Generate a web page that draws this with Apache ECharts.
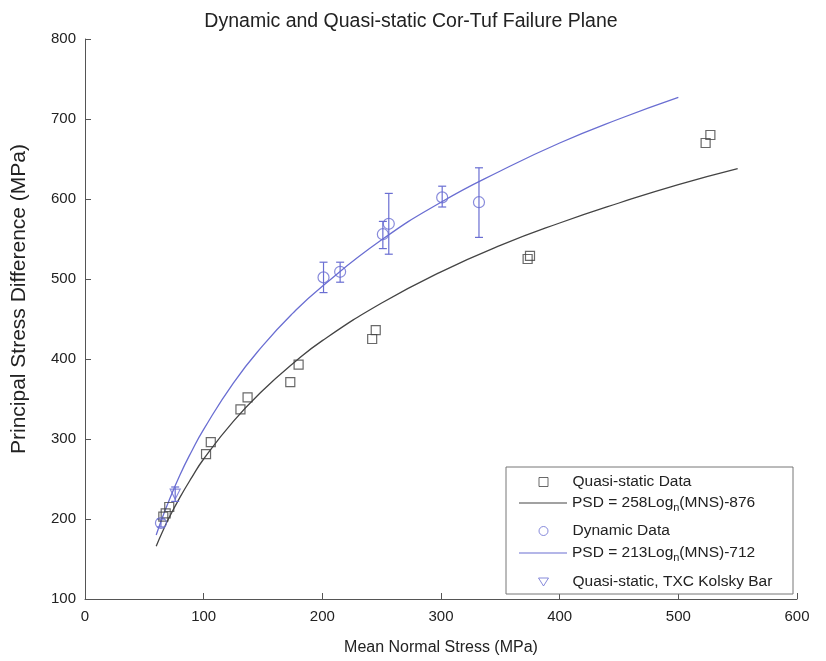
<!DOCTYPE html>
<html>
<head>
<meta charset="utf-8">
<script src="https://cdn.jsdelivr.net/npm/echarts@6/dist/echarts.min.js"></script>
<style>html,body{margin:0;padding:0;background:#fff;}#c{width:826px;height:661px;}</style>
</head>
<body>
<div id="c"></div>
<script>
const xTicks = [0, 100, 200, 300, 400, 500, 600];
const yTicks = [100, 200, 300, 400, 500, 600, 700, 800];

// Quasi-static data [MNS, PSD]
const quasiStatic = [[66,203],[68,207],[71,215],[102,281],[106,296],[131,337],[137,352],[173,371],[180,393],[242,425],[245,436],[373,525],[375,529],[523,670],[527,680]];
// Fit curve (black)
const fitBlack = [[60,166],[65,183],[70,199],[80,227],[90,252],[100,275],[125,322],[150,361],[175,394],[200,423],[250,470],[300,509],[350,542],[400,570],[450,595],[500,618],[550,638]];
// Dynamic data [MNS, PSD]
const dynamicData = [[64,195],[201,502],[215,509],[251,556],[256,569],[301,602],[332,596]];
// Dynamic error bars [MNS, low, high]
const dynamicErr = [[64,190,200],[201,483,521],[215,496,521],[251,538,572],[256,531,607],[301,590,616],[332,552,639]];
// Fit curve (blue)
const fitBlue = [[60,180],[65,201],[70,220],[80,255],[90,285],[100,312],[125,370],[150,417],[175,457],[200,491],[250,549],[300,596],[350,635],[400,670],[450,700],[500,727]];
// Quasi-static TXC Kolsky bar
const kolsky = [[76,231]];
const kolskyErr = [[76,222,240]];

const names = ['Quasi-static Data','PSD = 258Logn(MNS)-876','Dynamic Data','PSD = 213Logn(MNS)-712','Quasi-static, TXC Kolsky Bar'];

const BLACK = '#444444';
const BLUE = '#6a6ed2';
const FONT = 'Liberation Sans, Arial, sans-serif';

function errSeries(data, color, z) {
  return {
    type: 'custom',
    data: data,
    z: z,
    silent: true,
    renderItem: function (params, api) {
      const x = api.value(0);
      const lo = api.coord([x, api.value(1)]);
      const hi = api.coord([x, api.value(2)]);
      const w = 4;
      const st = {stroke: color, lineWidth: 1.2};
      return {type: 'group', children: [
        {type: 'line', shape: {x1: lo[0], y1: lo[1], x2: hi[0], y2: hi[1]}, style: st},
        {type: 'line', shape: {x1: lo[0]-w, y1: lo[1], x2: lo[0]+w, y2: lo[1]}, style: st},
        {type: 'line', shape: {x1: hi[0]-w, y1: hi[1], x2: hi[0]+w, y2: hi[1]}, style: st}
      ]};
    }
  };
}

const rowsY = [479, 500, 528, 550, 579];
const LINE_ICON = 'path://M0,4L48,4L48,5L0,5Z';
const legendIcons = [
  {icon: 'path://M0,0M48,9M19.5,0L28.5,0L28.5,9L19.5,9Z', itemStyle: {color: '#fff', borderColor: BLACK, borderWidth: 1}},
  {icon: LINE_ICON, itemStyle: {color: BLACK}},
  {icon: 'path://M0,0M48,9M28.5,4.5A4.5,4.5,0,1,1,19.5,4.5A4.5,4.5,0,1,1,28.5,4.5Z', itemStyle: {color: '#fff', borderColor: BLUE, borderWidth: 1}},
  {icon: LINE_ICON, itemStyle: {color: BLUE}},
  {icon: 'path://M0,0M48,9M19,0.5L29,0.5L24,8.5Z', itemStyle: {color: '#fff', borderColor: BLUE, borderWidth: 1}}
];

const legends = names.map(function (n, i) {
  return {
    data: [Object.assign({name: n}, legendIcons[i])],
    left: 514,
    top: rowsY[i] - 10,
    itemWidth: 48,
    itemHeight: 9,
    selectedMode: false,
    formatter: function (name) { return name.replace('Logn', 'Log{sub|n}'); },
    textStyle: {
      fontSize: 15.5, color: '#222', fontFamily: FONT,
      rich: {sub: {fontSize: 11, color: '#222', fontFamily: FONT, padding: [9, 0, 0, 0]}}
    }
  };
});

const chart = echarts.init(document.getElementById('c'), null, {renderer: 'canvas'});
chart.setOption({
  animation: false,
  backgroundColor: '#fff',
  title: {
    text: 'Dynamic and Quasi-static Cor-Tuf Failure Plane',
    left: 406, top: 7, textAlign: 'center',
    textStyle: {fontSize: 19.5, fontWeight: 'normal', color: '#222', fontFamily: FONT}
  },
  grid: {left: 85, right: 29, top: 39, bottom: 61},
  legend: legends,
  graphic: [{
    type: 'rect', z: 3, silent: true,
    shape: {x: 506, y: 467, width: 287, height: 127},
    style: {fill: '#fff', stroke: '#777', lineWidth: 1}
  }],
  xAxis: {
    type: 'value', min: xTicks[0], max: xTicks[xTicks.length-1], interval: 100,
    name: 'Mean Normal Stress (MPa)', nameLocation: 'middle', nameGap: 41,
    nameTextStyle: {fontSize: 16, color: '#222', fontFamily: FONT},
    axisLine: {lineStyle: {color: '#555', width: 1}},
    axisTick: {inside: true, length: 6, lineStyle: {color: '#555'}},
    axisLabel: {fontSize: 15, color: '#222', fontFamily: FONT, margin: 10},
    splitLine: {show: false}
  },
  yAxis: {
    type: 'value', min: yTicks[0], max: yTicks[yTicks.length-1], interval: 100,
    name: 'Principal Stress Difference (MPa)', nameLocation: 'middle', nameGap: 55,
    nameTextStyle: {fontSize: 21, color: '#222', fontFamily: FONT, padding: [0, 0, 0, 40]},
    axisLine: {show: true, lineStyle: {color: '#555', width: 1}},
    axisTick: {show: true, inside: true, length: 6, lineStyle: {color: '#555'}},
    axisLabel: {fontSize: 15, color: '#222', fontFamily: FONT, margin: 9},
    splitLine: {show: false}
  },
  series: [
    {name: names[0], type: 'scatter', data: quasiStatic, symbol: 'rect', symbolSize: 9,
     itemStyle: {color: 'transparent', borderColor: BLACK, borderWidth: 1.2}, z: 5},
    {name: names[1], type: 'line', data: fitBlack, smooth: true, showSymbol: false, symbol: 'none',
     lineStyle: {color: BLACK, width: 1.3}, itemStyle: {color: BLACK}, z: 2},
    {name: names[2], type: 'scatter', data: dynamicData, symbol: 'circle', symbolSize: 11,
     itemStyle: {color: 'transparent', borderColor: BLUE, borderWidth: 1.2}, z: 5},
    {name: names[3], type: 'line', data: fitBlue, smooth: true, showSymbol: false, symbol: 'none',
     lineStyle: {color: BLUE, width: 1.3}, itemStyle: {color: BLUE}, z: 2},
    {name: names[4], type: 'scatter', data: kolsky, symbol: 'triangle', symbolRotate: 180, symbolSize: 10,
     itemStyle: {color: 'transparent', borderColor: BLUE, borderWidth: 1.2}, z: 5},
    errSeries(dynamicErr, BLUE, 4),
    errSeries(kolskyErr, BLUE, 4)
  ]
});
</script>
</body>
</html>
